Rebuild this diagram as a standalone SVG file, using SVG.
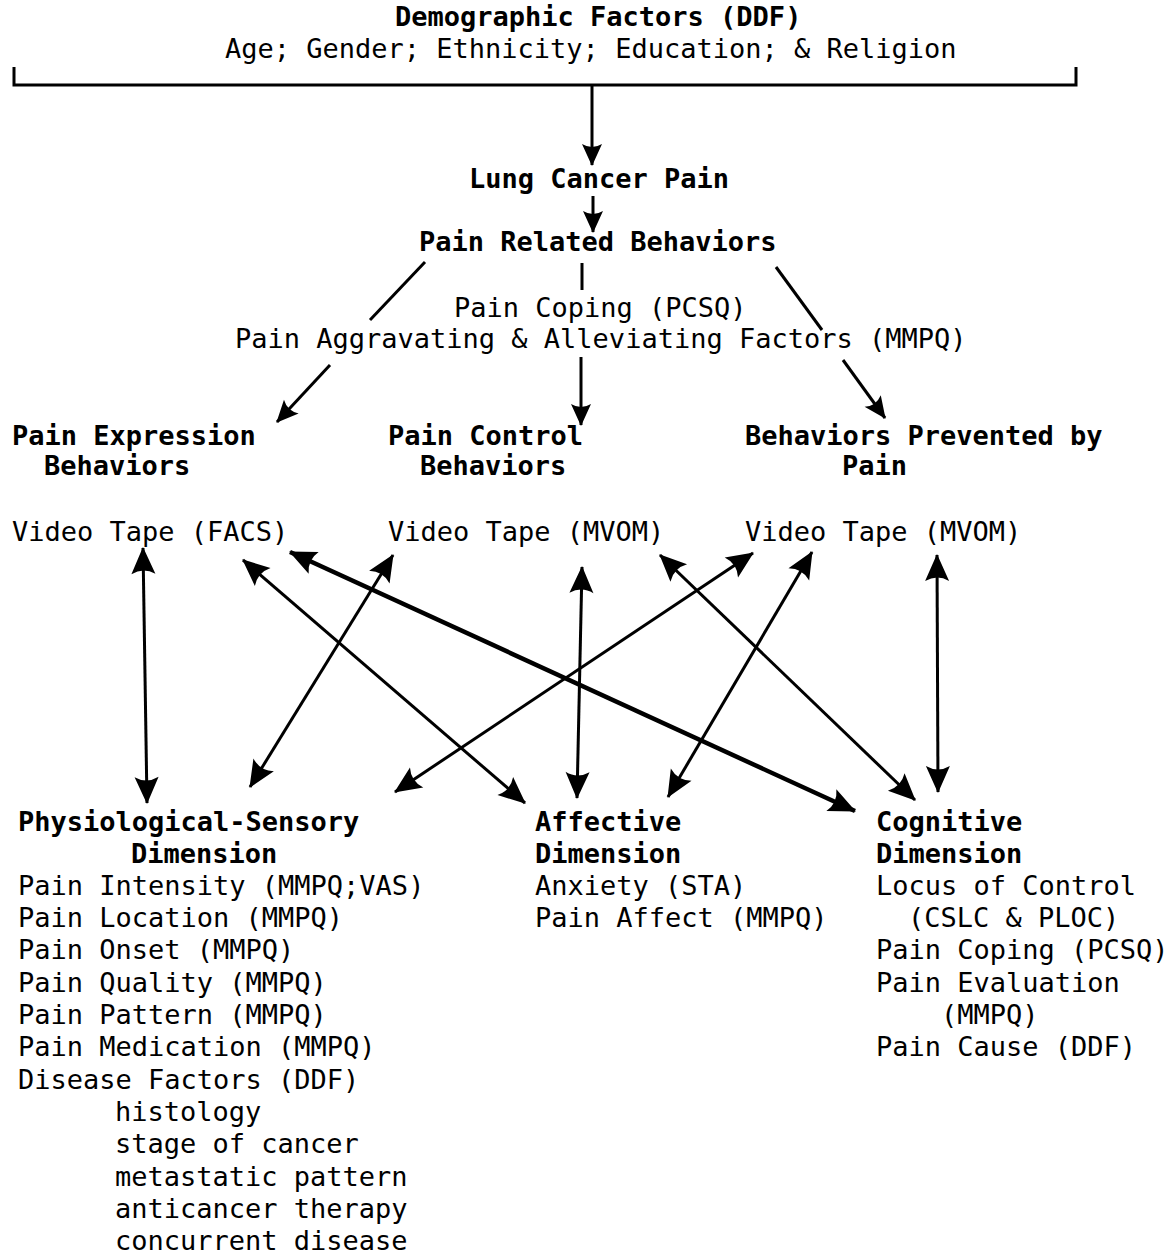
<svg xmlns="http://www.w3.org/2000/svg" width="1175" height="1255" viewBox="0 0 1175 1255">
<style>
text{font-family:"DejaVu Sans Mono","Liberation Mono",monospace;font-size:27px;fill:#000}
.b{font-weight:bold}
.c{stroke:#000;stroke-width:3;fill:none}
.t{stroke-width:4.5}
</style>
<defs>
<marker id="ah" markerUnits="userSpaceOnUse" markerWidth="30" markerHeight="30" viewBox="-28 -15 30 30" refX="0" refY="0" orient="auto-start-reverse">
<path d="M1,0 L-26,-12 Q-19,0 -26,12 Z" fill="#000"/>
</marker>
<marker id="as" markerUnits="userSpaceOnUse" markerWidth="26" markerHeight="26" viewBox="-24 -13 26 26" refX="0" refY="0" orient="auto">
<path d="M1,0 L-21,-10 Q-15,0 -21,10 Z" fill="#000"/>
</marker>
</defs>
<rect width="1175" height="1255" fill="#fff"/>

<g id="ddf">
<text class="b" x="395" y="26">Demographic Factors (DDF)</text>
<text x="225" y="58">Age; Gender; Ethnicity; Education; &amp; Religion</text>
<path class="c" d="M14,67 V85 H1076 V67"/>
</g>
<g id="lcp"><text class="b" x="469" y="188">Lung Cancer Pain</text></g>
<g id="prb"><text class="b" x="419" y="251">Pain Related Behaviors</text></g>
<g id="mediators">
<text x="454" y="317">Pain Coping (PCSQ)</text>
<text x="235" y="348">Pain Aggravating &amp; Alleviating Factors (MMPQ)</text>
</g>
<g id="peb">
<text class="b" x="12" y="445">Pain Expression</text>
<text class="b" x="44" y="475">Behaviors</text>
<text x="12" y="541">Video Tape (FACS)</text>
</g>
<g id="pcb">
<text class="b" x="388" y="445">Pain Control</text>
<text class="b" x="420" y="475">Behaviors</text>
<text x="388" y="541">Video Tape (MVOM)</text>
</g>
<g id="bpp">
<text class="b" x="745" y="445">Behaviors Prevented by</text>
<text class="b" x="842" y="475">Pain</text>
<text x="745" y="541">Video Tape (MVOM)</text>
</g>
<g id="psd">
<text class="b" x="18" y="831">Physiological-Sensory</text>
<text class="b" x="131" y="863">Dimension</text>
<text x="18" y="895">Pain Intensity (MMPQ;VAS)</text>
<text x="18" y="927">Pain Location (MMPQ)</text>
<text x="18" y="959">Pain Onset (MMPQ)</text>
<text x="18" y="992">Pain Quality (MMPQ)</text>
<text x="18" y="1024">Pain Pattern (MMPQ)</text>
<text x="18" y="1056">Pain Medication (MMPQ)</text>
<text x="18" y="1089">Disease Factors (DDF)</text>
<text x="115" y="1121">histology</text>
<text x="115" y="1153">stage of cancer</text>
<text x="115" y="1186">metastatic pattern</text>
<text x="115" y="1218">anticancer therapy</text>
<text x="115" y="1250">concurrent disease</text>
</g>
<g id="ad">
<text class="b" x="535" y="831">Affective</text>
<text class="b" x="535" y="863">Dimension</text>
<text x="535" y="895">Anxiety (STA)</text>
<text x="535" y="927">Pain Affect (MMPQ)</text>
</g>
<g id="cd">
<text class="b" x="876" y="831">Cognitive</text>
<text class="b" x="876" y="863">Dimension</text>
<text x="876" y="895">Locus of Control</text>
<text x="908" y="927">(CSLC &amp; PLOC)</text>
<text x="876" y="959">Pain Coping (PCSQ)</text>
<text x="876" y="992">Pain Evaluation</text>
<text x="941" y="1024">(MMPQ)</text>
<text x="876" y="1056">Pain Cause (DDF)</text>
</g>

<g id="connectors">
<line class="c" x1="592" y1="85" x2="592" y2="165" marker-end="url(#as)"/>
<line class="c" x1="593" y1="196" x2="593" y2="232" marker-end="url(#as)"/>
<line class="c" x1="425" y1="262" x2="370" y2="320"/>
<line class="c" x1="582" y1="263" x2="582" y2="290"/>
<line class="c" x1="776" y1="267" x2="822" y2="330"/>
<line class="c" x1="330" y1="365" x2="277" y2="422" marker-end="url(#as)"/>
<line class="c" x1="581" y1="357" x2="581" y2="425" marker-end="url(#as)"/>
<line class="c" x1="843" y1="360" x2="885" y2="418" marker-end="url(#as)"/>

<line class="c" x1="143" y1="548" x2="147" y2="803" marker-start="url(#ah)" marker-end="url(#ah)"/>
<line class="c" x1="393" y1="555" x2="250" y2="787" marker-start="url(#ah)" marker-end="url(#ah)"/>
<line class="c" x1="243" y1="560" x2="525" y2="803" marker-start="url(#ah)" marker-end="url(#ah)"/>
<line class="c t" x1="290" y1="552" x2="855" y2="811" marker-start="url(#ah)" marker-end="url(#ah)"/>
<line class="c" x1="582" y1="567" x2="577" y2="798" marker-start="url(#ah)" marker-end="url(#ah)"/>
<line class="c" x1="753" y1="553" x2="395" y2="792" marker-start="url(#ah)" marker-end="url(#ah)"/>
<line class="c" x1="660" y1="555" x2="915" y2="800" marker-start="url(#ah)" marker-end="url(#ah)"/>
<line class="c" x1="812" y1="552" x2="668" y2="797" marker-start="url(#ah)" marker-end="url(#ah)"/>
<line class="c" x1="937" y1="555" x2="938" y2="792" marker-start="url(#ah)" marker-end="url(#ah)"/>
</g>
</svg>
